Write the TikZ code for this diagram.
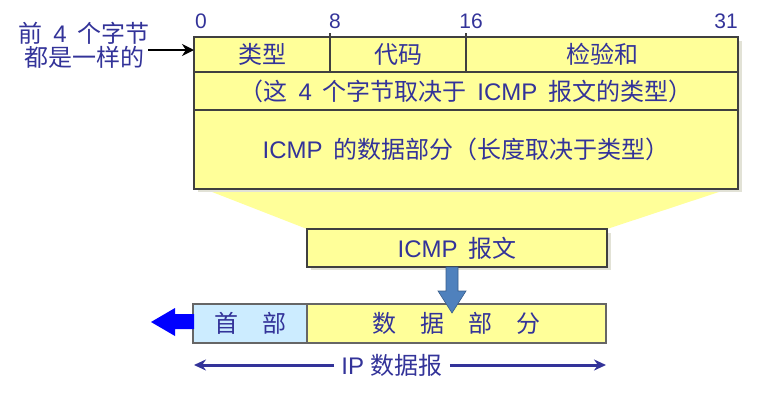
\documentclass[tikz,border=0pt]{standalone}
\usepackage{fontspec}
\setmainfont{Liberation Sans}
\newfontfamily\cjk[WordSpace=2]{Noto Sans CJK SC}
\newfontfamily\lat{Liberation Sans}
\usepackage{tikz}
\usepackage{xcolor}
\usetikzlibrary{arrows.meta}

\definecolor{pktyellow}{HTML}{FFFF99}
\definecolor{hdrblue}{HTML}{CCECFF}
\definecolor{txtblue}{HTML}{333399}
\definecolor{boxline}{HTML}{404040}
\definecolor{dgline}{HTML}{666666}
\definecolor{shadowgray}{HTML}{E2E2D6}
\definecolor{arrowblue}{HTML}{4F81BD}
\definecolor{arrowedge}{HTML}{385D8A}

\tikzset{
  field/.style={draw=boxline,line width=1.5pt,fill=pktyellow,anchor=north west,
    inner sep=0pt,outer sep=0pt,text=txtblue,font=\cjk\fontsize{24}{26}\selectfont},
  bitnum/.style={inner sep=0pt,text=txtblue,font=\lat\fontsize{21}{21}\selectfont},
  note/.style={inner sep=0pt,text=txtblue,font=\cjk\fontsize{24}{24}\selectfont},
  dim/.style={txtblue,line width=3pt,-{Stealth[length=12pt,width=11pt]}}
}

\begin{document}
\begin{tikzpicture}[x=1pt,y=-1pt]
\useasboundingbox (0,0) rectangle (762,407);
% funnel and shadows
\fill[pktyellow] (207,190) -- (725,190) -- (607,229) -- (307,229) -- cycle;
\fill[shadowgray] (198,41) rectangle (742,192);
\fill[shadowgray] (311,233) rectangle (611,270);
% ICMP message
\node[field,minimum width=136pt,minimum height=35pt] (type) at (194,37) {类型};
\node[field,minimum width=136pt,minimum height=35pt] (code) at (type.north east) {代码};
\node[field,minimum width=272pt,minimum height=35pt] (checksum) at (code.north east) {检验和};
\node[field,minimum width=544pt,minimum height=38pt] (rest) at (type.south west)
  {（这 {\lat 4} 个字节取决于 {\lat ICMP} 报文的类型）};
\node[field,minimum width=544pt,minimum height=79pt] (body) at (rest.south west)
  {{\lat ICMP} 的数据部分（长度取决于类型）};
\draw[boxline,line width=1.5pt] (code.north west) -- ++(0,-4);
\draw[boxline,line width=1.5pt] (checksum.north west) -- ++(0,-4);
% bit positions
\node[bitnum,anchor=base west] (b0) at (195,28) {0};
\node[bitnum,anchor=base west] (b8) at (329,28) {8};
\node[bitnum,anchor=base] (b16) at (471,28) {16};
\node[bitnum,anchor=base east] (b31) at (738,28) {31};
% note on the left
\node[note,align=center] (same) at (84,45) {前 {\lat 4} 个字节\\都是一样的};
\coordinate (in) at (148,50);
\draw[line width=2.5pt,-{Stealth[length=12pt,width=12pt]}] (in) -- (in -| type.west);
% ICMP box
\node[field,minimum width=300pt,minimum height=38pt] (icmp) at (307,229) {{\lat ICMP} 报文};
% IP datagram
\node[field,fill=hdrblue,draw=dgline,minimum width=114pt,minimum height=39pt] (hdr) at (193,304) {首\quad 部};
\node[field,draw=dgline,minimum width=299pt,minimum height=39pt] (payload) at (hdr.north east) {数\quad 据\quad 部\quad 分};
\filldraw[fill=arrowblue,draw=arrowedge,line width=0.6pt] (446,267) -- (458,267) -- (458,291) -- (466,291)
  -- (452,313) -- (438,291) -- (446,291) -- cycle;
\fill[blue] (194,314) -- (175,314) -- (175,308) -- (151,322) -- (175,336) -- (175,329) -- (194,329) -- cycle;
% datagram length
\node[note,inner xsep=7pt] (ip) at (392,365) {{\lat IP }数据报};
\coordinate (ipl) at (194,365);
\coordinate (ipr) at (606,365);
\draw[dim] (ip.west) -- (ipl);
\draw[dim] (ip.east) -- (ipr);
\end{tikzpicture}
\end{document}
